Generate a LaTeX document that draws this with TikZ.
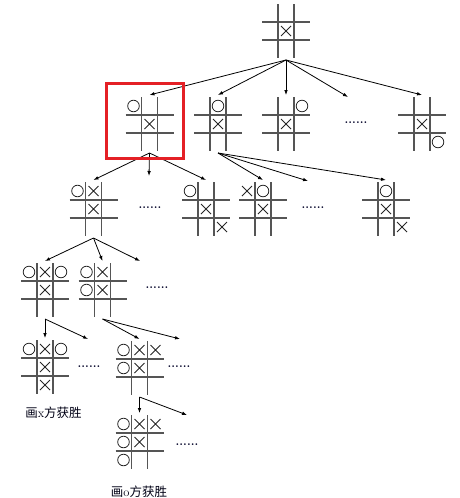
\documentclass[tikz,border=0pt]{standalone}
\usepackage{fontspec}
\newfontfamily\cjk{Noto Sans CJK SC}
\usepackage{tikz}
\usetikzlibrary{arrows.meta, positioning, calc}

\definecolor{boxred}{RGB}{228,32,38}
\definecolor{gridgray}{RGB}{85,85,85}

% one board: name, centre
\newcommand{\board}[2]{%
  \node[board] (#1) at (#2) {};
  \draw[grid] ($(#1)+(-8,-27)$) -- ++(0,54) ($(#1)+(8,-27)$) -- ++(0,54)
              ($(#1)+(-24,-9)$) -- ++(48,0) ($(#1)+(-24,9)$) -- ++(48,0);}
% marks: board, column, row
\newcommand{\cellX}[3]{\draw[mk] ($(#1)+(16*#2-5,18*#3-5)$) -- ++(10,10)
  ($(#1)+(16*#2-5,18*#3+5)$) -- ++(10,-10);}
\newcommand{\cellO}[3]{\draw[mk] ($(#1)+(16*#2,18*#3)$) circle[radius=5.8];}

\begin{document}
\begin{tikzpicture}[x=1pt, y=-1pt,
  board/.style={minimum width=48, minimum height=54, inner sep=0, outer sep=2},
  grid/.style={gridgray, line width=1.1pt},
  mk/.style={black!85, line width=0.8pt},
  arr/.style={-{Latex[length=5pt,width=3.6pt]}, line width=0.8pt},
  dots/.style={inner sep=0, font=\fontsize{12}{12}\selectfont\bfseries, text=black!85!blue},
  lbl/.style={inner sep=0, font=\fontsize{12.5}{14}\selectfont, text=black!92!blue}]
\useasboundingbox (0,0) rectangle (460,498);

% boards
\board{top}{286,31}
\board{b1}{149.5,124}
\board{b2}{218,124}
\board{b3}{286,124}
\board{b5}{422,124}
\board{ba}{93.5,209}
\board{bb}{206,209}
\board{bc}{263,209}
\board{bd}{386,209}
\board{be}{45,290}
\board{bf}{102.5,290}
\board{bg}{45,367}
\board{bh}{139.5,368}
\board{bi}{139.5,442}

% marks
\cellX{top}{0}{0}
\cellX{b1}{0}{0} \cellO{b1}{-1}{-1}
\cellX{b2}{0}{0} \cellO{b2}{0}{-1}
\cellX{b3}{0}{0} \cellO{b3}{1}{-1}
\cellX{b5}{0}{0} \cellO{b5}{1}{1}
\cellX{ba}{0}{0} \cellX{ba}{0}{-1} \cellO{ba}{-1}{-1}
\cellX{bb}{0}{0} \cellX{bb}{1}{1} \cellO{bb}{-1}{-1}
\cellX{bc}{0}{0} \cellX{bc}{-1}{-1} \cellO{bc}{0}{-1}
\cellX{bd}{0}{0} \cellX{bd}{1}{1} \cellO{bd}{0}{-1}
\cellX{be}{0}{0} \cellX{be}{0}{-1} \cellO{be}{-1}{-1} \cellO{be}{1}{-1}
\cellX{bf}{0}{0} \cellX{bf}{0}{-1} \cellO{bf}{-1}{-1} \cellO{bf}{-1}{0}
\cellX{bg}{0}{0} \cellX{bg}{0}{-1} \cellX{bg}{0}{1} \cellO{bg}{-1}{-1} \cellO{bg}{1}{-1}
\cellX{bh}{0}{0} \cellX{bh}{0}{-1} \cellX{bh}{1}{-1} \cellO{bh}{-1}{-1} \cellO{bh}{-1}{0}
\cellX{bi}{0}{0} \cellX{bi}{0}{-1} \cellX{bi}{1}{-1} \cellO{bi}{-1}{-1} \cellO{bi}{-1}{0} \cellO{bi}{-1}{1}

% dots
\node[dots] (d1) at (356,123) {......};
\node[dots] (d2) at (150,208) {......};
\node[dots] (d3) at (313,208) {......};
\node[dots] (d4) at (157,288) {......};
\node[dots] (d5) at (89,367) {......};
\node[dots] (d6) at (179,367) {......};
\node[dots] (d7) at (187,445) {......};

% free arrow ends
\coordinate (e1) at (348,97);
\coordinate (e2) at (149,176);
\coordinate (e3) at (308,181);
\coordinate (e4) at (140,261);
\coordinate (e5) at (88,339);
\coordinate (e6) at (180,339);
\coordinate (e7) at (187,415);

% arrows
\draw[arr] (top.south) -- (b1.north);
\draw[arr] (top.south) -- (b2.north);
\draw[arr] (top.south) -- (b3.north);
\draw[arr] (top.south) -- (e1);
\draw[arr] (top.south) -- (b5.north);
\draw[arr] (b1.south) -- (ba.north);
\draw[arr] (b1.south) -- (e2);
\draw[arr] (b1.south) -- (bb.north);
\draw[arr] (b2.south) -- (bc.north);
\draw[arr] (b2.south) -- (e3);
\draw[arr] (b2.south) -- (bd.north);
\draw[arr] (ba.south) -- (be.north);
\draw[arr] (ba.south) -- (bf.north);
\draw[arr] (ba.south) -- (e4);
\draw[arr] (be.south) -- (bg.north);
\draw[arr] (be.south) -- (e5);
\draw[arr] (bf.south) -- (bh.north);
\draw[arr] (bf.south) -- (e6);
\draw[arr] (bh.south) -- (bi.north);
\draw[arr] (bh.south) -- (e7);

% labels
\node[lbl] (winx) at (53.5,413) {{\cjk 画}x{\cjk 方获胜}};
\node[lbl] (wino) at (139,492) {{\cjk 画}o{\cjk 方获胜}};

% highlight
\draw[boxred, line width=3pt] (106.5,83.5) rectangle (183.5,158.5);
\end{tikzpicture}
\end{document}
